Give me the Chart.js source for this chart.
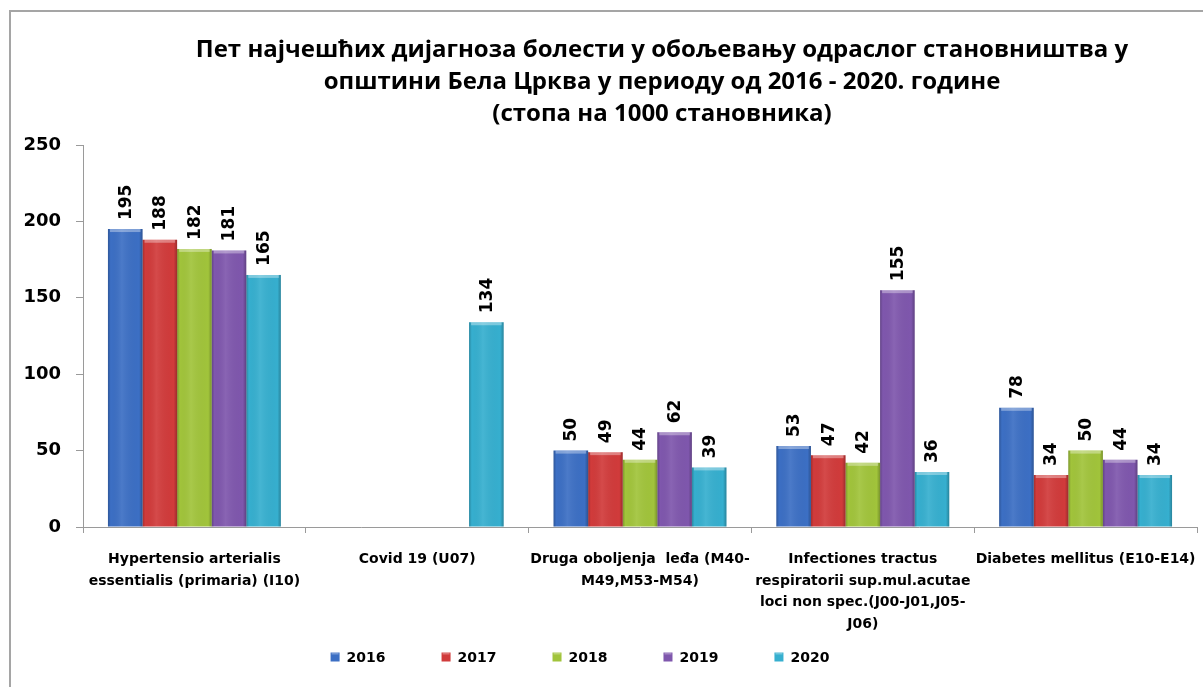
<!DOCTYPE html>
<html>
<head>
<meta charset="utf-8">
<script src="https://cdn.jsdelivr.net/npm/chart.js@4.4.1/dist/chart.umd.min.js"></script>
<style>
  html, body { margin: 0; padding: 0; background: #fff; }
  #okvir { width: 1203px; height: 687px; position: relative; }
</style>
</head>
<body>
<div id="okvir"><canvas id="grafikon"></canvas></div>
<script>
// kategorije - dijagnoze
let dijagnoze = [
  ['Hypertensio arterialis', 'essentialis (primaria) (I10)'],
  'Covid 19 (U07)',
  ['Druga oboljenja  leđa (M40-', 'M49,M53-M54)'],
  ['Infectiones tractus', 'respiratorii sup.mul.acutae', 'loci non spec.(J00-J01,J05-', 'J06)'],
  'Diabetes mellitus (E10-E14)'
]

// godine (serije)
let godine = ['2016', '2017', '2018', '2019', '2020']

// stope na 1000 stanovnika
let stopa2016 = [195, null, 50, 53, 78]
let stopa2017 = [188, null, 49, 47, 34]
let stopa2018 = [182, null, 44, 42, 50]
let stopa2019 = [181, null, 62, 155, 44]
let stopa2020 = [165, 134, 39, 36, 34]

// podeoci na y osi
let yPodeoci = [0, 50, 100, 150, 200, 250]

let naslov = [
  'Пет најчешћих дијагноза болести у обољевању одраслог становништва у',
  'општини Бела Црква у периоду од 2016 - 2020. године',
  '(стопа на 1000 становника)'
]

let boje = ['#3c6fc4', '#d13b3b', '#a1c43b', '#7f57ad', '#36afcf']

let serije = [stopa2016, stopa2017, stopa2018, stopa2019, stopa2020]

let datasets = []
for (let i = 0; i < serije.length; i++) {
  datasets.push({
    label: godine[i],
    data: serije[i],
    backgroundColor: boje[i],
    borderWidth: 0,
    categoryPercentage: 0.776,
    barPercentage: 1
  })
}

// okvir, naslov, 3D efekat stubova, vrednosti i legenda
let ukras = {
  id: 'ukras',
  beforeDraw(chart) {
    let ctx = chart.ctx
    ctx.save()
    ctx.strokeStyle = '#a5a5a5'
    ctx.lineWidth = 2
    ctx.strokeRect(10, 11, 1400, 900)

    ctx.fillStyle = '#000'
    ctx.font = 'bold 24px "Open Sans"'
    ctx.textAlign = 'center'
    ctx.textBaseline = 'middle'
    for (let i = 0; i < naslov.length; i++) {
      ctx.fillText(naslov[i], 662, 50 + i * 32)
    }
    ctx.restore()
  },
  afterDatasetsDraw(chart) {
    let ctx = chart.ctx
    ctx.save()
    chart.data.datasets.forEach((ds, d) => {
      let meta = chart.getDatasetMeta(d)
      meta.data.forEach((el, j) => {
        if (ds.data[j] == null) return
        let w = el.width
        let x0 = el.x - w / 2
        let top = el.y
        let h = el.base - el.y

        // senke i odsjaj
        let g = ctx.createLinearGradient(x0, 0, x0 + w, 0)
        g.addColorStop(0, 'rgba(0,0,0,0.22)')
        g.addColorStop(0.08, 'rgba(0,0,0,0.0)')
        g.addColorStop(0.4, 'rgba(255,255,255,0.08)')
        g.addColorStop(0.9, 'rgba(0,0,0,0.0)')
        g.addColorStop(1, 'rgba(0,0,0,0.25)')
        ctx.fillStyle = g
        ctx.fillRect(x0, top, w, h)
        ctx.fillStyle = 'rgba(255,255,255,0.35)'
        ctx.fillRect(x0 + 2, top, w - 4, 3)

        // vrednost iznad stuba
        ctx.save()
        ctx.fillStyle = '#000'
        ctx.font = 'bold 17px "DejaVu Sans"'
        ctx.textAlign = 'left'
        ctx.textBaseline = 'middle'
        ctx.translate(el.x + 1, top - 9)
        ctx.rotate(-Math.PI / 2)
        ctx.fillText(ds.data[j], 0, 0)
        ctx.restore()
      })
    })
    ctx.restore()
  },
  afterDraw(chart) {
    let ctx = chart.ctx
    ctx.save()
    ctx.font = 'bold 14px "DejaVu Sans"'
    ctx.textBaseline = 'middle'
    ctx.textAlign = 'left'
    let kutija = 9
    let razmak = 56
    let sirine = chart.data.datasets.map(ds => kutija + 7 + ctx.measureText(ds.label).width)
    let ukupno = sirine.reduce((a, b) => a + b, 0) + razmak * (sirine.length - 1)
    let x = 580 - ukupno / 2
    let y = 657
    chart.data.datasets.forEach((ds, i) => {
      ctx.fillStyle = ds.backgroundColor
      ctx.fillRect(x, y - kutija / 2, kutija, kutija)
      ctx.fillStyle = 'rgba(255,255,255,0.3)'
      ctx.fillRect(x + 1, y - kutija / 2, kutija - 2, 2)
      ctx.fillStyle = '#000'
      ctx.fillText(ds.label, x + kutija + 7, y + 1)
      x += sirine[i] + razmak
    })
    ctx.restore()
  }
}

const config = {
  type: 'bar',
  data: {
    labels: dijagnoze,
    datasets: datasets
  },
  options: {
    responsive: true,
    maintainAspectRatio: false,
    animation: false,
    layout: {
      padding: { top: 145, bottom: 45, left: 0, right: 6 }
    },
    plugins: {
      legend: { display: false },
      title: { display: false },
      tooltip: { enabled: false }
    },
    scales: {
      x: {
        grid: {
          drawOnChartArea: false,
          drawTicks: true,
          tickLength: 6,
          color: '#9a9a9a'
        },
        border: { color: '#9a9a9a', width: 1 },
        ticks: {
          color: '#000',
          font: { family: 'DejaVu Sans', size: 14, weight: 'bold', lineHeight: '21.5px' },
          padding: 16,
          maxRotation: 0,
          autoSkip: false
        },
        afterFit(scale) {
          scale.height = 115
          scale.paddingLeft = 0
          scale.paddingRight = 0
        }
      },
      y: {
        min: 0,
        max: 250,
        grid: {
          drawOnChartArea: false,
          drawTicks: true,
          tickLength: 7,
          color: '#9a9a9a'
        },
        border: { color: '#9a9a9a', width: 1 },
        ticks: {
          color: '#000',
          font: { family: 'DejaVu Sans', size: 18, weight: 'bold' },
          padding: 15
        },
        afterBuildTicks(scale) {
          scale.ticks = yPodeoci.map(v => ({ value: v }))
        },
        afterFit(scale) {
          scale.width = 83
          scale.paddingTop = 0
          scale.paddingBottom = 0
        }
      }
    }
  },
  plugins: [ukras]
}

const grafikon = new Chart(document.getElementById('grafikon'), config)
</script>
</body>
</html>
